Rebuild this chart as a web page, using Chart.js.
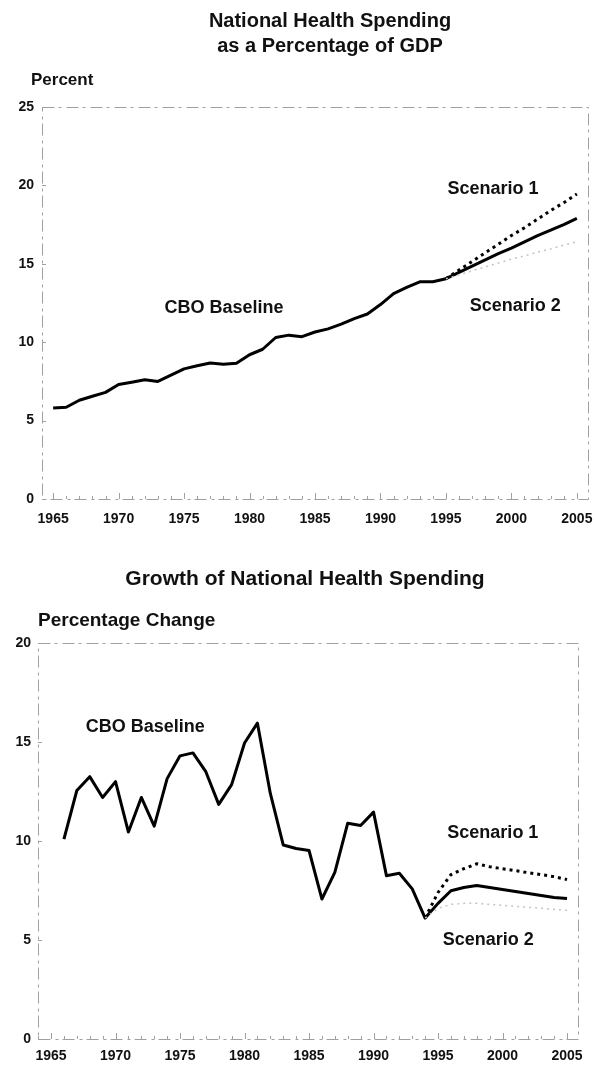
<!DOCTYPE html>
<html>
<head>
<meta charset="utf-8">
<script src="https://cdn.jsdelivr.net/npm/chart.js@4.4.1/dist/chart.umd.min.js"></script>
<style>
  body{margin:0;background:#fff;width:596px;height:1065px;overflow:hidden;position:relative;font-family:"Liberation Sans",Arial,sans-serif;color:#111}
  canvas{position:absolute;left:0}
  .t{position:absolute;font-weight:bold;white-space:nowrap}
</style>
</head>
<body>
<canvas id="gdpChart" width="596" height="540" style="top:0"></canvas>
<canvas id="growthChart" width="596" height="505" style="top:560px"></canvas>

<div class="t" style="left:130px;width:400px;top:8px;text-align:center;font-size:20px;line-height:25px">National Health Spending<br>as a Percentage of GDP</div>
<div class="t" style="left:31px;top:70px;font-size:17px;line-height:20px">Percent</div>
<div class="t" style="left:105px;width:400px;top:566px;text-align:center;font-size:21px;line-height:24px">Growth of National Health Spending</div>
<div class="t" style="left:38px;top:609px;font-size:19px;line-height:22px">Percentage Change</div>

<script>
// ---- data ----
const yearTicks = [1965, 1970, 1975, 1980, 1985, 1990, 1995, 2000, 2005];

// share of GDP, history
const gdpHistYears = [1965,1966,1967,1968,1969,1970,1971,1972,1973,1974,1975,1976,1977,1978,1979,1980,
  1981,1982,1983,1984,1985,1986,1987,1988,1989,1990,1991,1992,1993,1994,1995];
const gdpHist = [5.8,5.85,6.3,6.55,6.8,7.3,7.45,7.6,7.5,7.9,8.3,8.5,8.67,8.6,8.65,9.2,
  9.55,10.3,10.45,10.35,10.65,10.85,11.15,11.5,11.8,12.4,13.1,13.5,13.85,13.85,14.05];
// share of GDP, projections
const gdpProjYears = [1995,1996,1997,1998,1999,2000,2001,2002,2003,2004,2005];
const gdpBase  = [14.05,14.45,14.85,15.25,15.65,16.0,16.4,16.8,17.15,17.5,17.9];
const gdpScen1 = [14.05,14.6,15.15,15.7,16.25,16.8,17.3,17.85,18.4,18.9,19.45];
const gdpScen2 = [14.05,14.3,14.55,14.8,15.05,15.3,15.5,15.75,15.95,16.2,16.4];

// growth, history
const growthHistYears = [1966,1967,1968,1969,1970,1971,1972,1973,1974,1975,1976,1977,1978,1979,1980,
  1981,1982,1983,1984,1985,1986,1987,1988,1989,1990,1991,1992,1993,1994];
const growthHist = [10.1,12.55,13.25,12.2,13.0,10.45,12.2,10.75,13.15,14.3,14.45,13.5,11.85,12.85,14.95,
  15.95,12.4,9.8,9.62,9.52,7.07,8.42,10.9,10.78,11.46,8.25,8.37,7.58,6.11];
// growth, projections
const growthProjYears = [1994,1995,1996,1997,1998,1999,2000,2001,2002,2003,2004,2005];
const growthBase  = [6.11,6.85,7.49,7.65,7.75,7.65,7.55,7.45,7.35,7.25,7.15,7.1];
const growthScen1 = [6.11,7.4,8.3,8.6,8.85,8.7,8.6,8.5,8.4,8.3,8.2,8.05];
const growthScen2 = [6.11,6.6,6.8,6.85,6.85,6.8,6.75,6.7,6.65,6.6,6.55,6.5];

const FONT = '"Liberation Sans", Arial, sans-serif';

function pts(xs, ys){ return xs.map((x,i)=>({x, y:ys[i]})); }

// faint scanned-looking frame + small ticks, and the in-plot labels
const framePlugin = {
  id:'frame',
  beforeDatasetsDraw(chart){
    const {ctx, chartArea:a, scales:{x, y}} = chart;
    ctx.save();
    ctx.strokeStyle = '#a0a0a0';
    ctx.lineWidth = 1;
    ctx.setLineDash([12,4,3,5]);
    ctx.strokeRect(a.left+0.5, a.top+0.5, a.right-a.left, a.bottom-a.top);
    ctx.setLineDash([]);
    ctx.beginPath();
    for(let yr=Math.ceil(x.min); yr<=x.max; yr++){
      const px = Math.round(x.getPixelForValue(yr))+0.5;
      ctx.moveTo(px, a.bottom); ctx.lineTo(px, a.bottom-(yr%5===0?6:3));
    }
    for(let v=0; v<=y.max; v+=5){
      const py = Math.round(y.getPixelForValue(v))+0.5;
      ctx.moveTo(a.left, py); ctx.lineTo(a.left+4, py);
    }
    ctx.stroke();
    ctx.restore();
  },
  afterDraw(chart){
    const notes = chart.options.plugins.notes || [];
    const {ctx, scales:{x, y}} = chart;
    ctx.save();
    ctx.fillStyle = '#111';
    ctx.font = 'bold 18px ' + FONT;
    ctx.textAlign = 'center';
    ctx.textBaseline = 'middle';
    notes.forEach(n => ctx.fillText(n.text, x.getPixelForValue(n.x), y.getPixelForValue(n.y)));
    ctx.restore();
  }
};

function makeChart(id, cfg){
  return new Chart(document.getElementById(id), {
    type:'line',
    data:{ datasets:[
      {label:'Scenario 2', data:cfg.s2, borderColor:'#c4c4c4', borderWidth:1.5, borderDash:[2,4], pointRadius:0, tension:0},
      {label:'CBO Baseline', data:cfg.base, borderColor:'#000', borderWidth:3, pointRadius:0, tension:0, borderJoinStyle:'round'},
      {label:'Scenario 1', data:cfg.s1, borderColor:'#000', borderWidth:3, borderDash:[3,4], pointRadius:0, tension:0}
    ]},
    options:{
      responsive:false, animation:false, devicePixelRatio:1,
      layout:{padding:{top:cfg.padTop, right:cfg.padRight, left:0, bottom:0}},
      plugins:{legend:{display:false}, tooltip:{enabled:false}, notes:cfg.notes},
      scales:{
        x:{
          type:'linear', min:cfg.xMin, max:cfg.xMax,
          grid:{display:false, drawTicks:false}, border:{display:false},
          afterBuildTicks(s){ s.ticks = yearTicks.map(v=>({value:v})); },
          afterFit(s){ s.height = cfg.xHeight; s.paddingLeft = 0; s.paddingRight = 0; },
          ticks:{autoSkip:false, maxRotation:0, padding:cfg.xPad, color:'#111',
                 font:{family:FONT, size:14, weight:'bold'}, callback:v=>String(v)}
        },
        y:{
          min:0, max:cfg.yMax,
          grid:{display:false, drawTicks:false}, border:{display:false},
          afterFit(s){ s.width = cfg.yWidth; s.paddingTop = 0; s.paddingBottom = 0; },
          ticks:{stepSize:5, padding:cfg.yPad, color:'#111', font:{family:FONT, size:14, weight:'bold'}}
        }
      }
    },
    plugins:[framePlugin]
  });
}

makeChart('gdpChart', {
  base: pts(gdpHistYears, gdpHist).concat(pts(gdpProjYears, gdpBase).slice(1)),
  s1: pts(gdpProjYears, gdpScen1),
  s2: pts(gdpProjYears, gdpScen2),
  xMin:1964.15, xMax:2005.85, yMax:25,
  padTop:107, padRight:8, yWidth:42, xHeight:41, xPad:12, yPad:8,
  notes:[
    {text:'CBO Baseline', x:1978.05, y:12.2},
    {text:'Scenario 1', x:1998.6, y:19.8},
    {text:'Scenario 2', x:2000.3, y:12.3}
  ]
});

makeChart('growthChart', {
  base: pts(growthHistYears, growthHist).concat(pts(growthProjYears, growthBase).slice(1)),
  s1: pts(growthProjYears, growthScen1),
  s2: pts(growthProjYears, growthScen2),
  xMin:1963.99, xMax:2005.85, yMax:20,
  padTop:83, padRight:18, yWidth:38, xHeight:26, xPad:9, yPad:7,
  notes:[
    {text:'CBO Baseline', x:1972.3, y:15.75},
    {text:'Scenario 1', x:1999.25, y:10.4},
    {text:'Scenario 2', x:1998.9, y:5.0}
  ]
});
</script>
</body>
</html>
